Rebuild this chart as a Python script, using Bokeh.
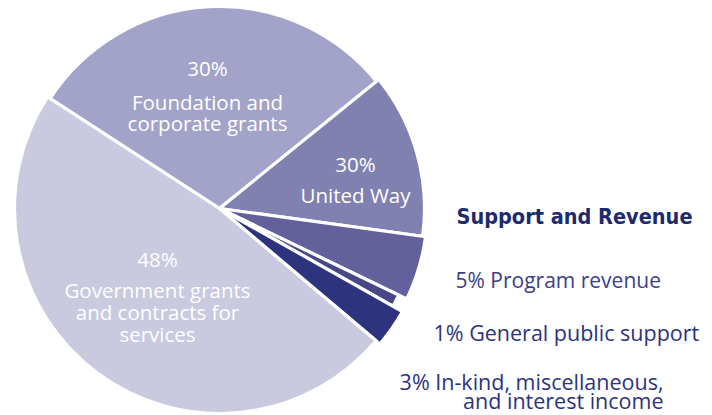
import math
from bokeh.plotting import figure
from bokeh.models import Range1d, ColumnDataSource
from bokeh.core.properties import value
from bokeh.embed import file_html
from bokeh.resources import INLINE

# ---- data ----
categories = ["Foundation and corporate grants", "United Way", "Program revenue",
              "General public support", "In-kind, miscellaneous, and interest income",
              "Government grants and contracts for services"]
shares = [30, 13, 5, 1, 3, 48]          # slice sizes (percent of circle)
pct_labels = ["30%", "30%", "5%", "1%", "3%", "48%"]   # printed labels
colors = ["#a3a3c9", "#8181b1", "#63609b", "#4a4789", "#2d347d", "#c9c9e0"]
radii = [202, 205, 208, 199, 210, 205]

W, H = 712, 415
p = figure(width=W, height=H, output_backend="svg", toolbar_location=None,
           x_range=Range1d(0, W), y_range=Range1d(0, H), min_border=0)
p.axis.visible = False
p.grid.visible = False
p.outline_line_color = None
p.background_fill_color = "white"

cx, cy = 219, 415 - 208
start_deg = 147.0
total = sum(shares)
starts, ends = [], []
a = start_deg
for s in shares:
    b = a - 360.0 * s / total
    starts.append(math.radians(b))
    ends.append(math.radians(a))
    a = b

src = ColumnDataSource(dict(x=[cx] * len(shares), y=[cy] * len(shares), r=radii,
                            s=starts, e=ends, c=colors, name=categories))
p.wedge(x="x", y="y", radius="r", start_angle="s", end_angle="e", fill_color="c",
        line_color="white", line_width=3.2, direction="anticlock", source=src)

font = value("Open Sans")

def txt(x, ys, lines, color, size="20.5px", align="center", fnt=font, style="normal"):
    p.text(x=[x] * len(lines), y=[415 - y for y in ys], text=lines, text_color=color,
           text_font=fnt, text_font_size=size, text_align=align,
           text_baseline="alphabetic", text_font_style=style)

white = "#ffffff"
# in-pie labels
txt(207, [67, 101, 122], [pct_labels[0], "Foundation and", "corporate grants"], white)
txt(355, [163, 194], [pct_labels[1], "United Way"], white)
txt(157, [258, 289, 311, 333], [pct_labels[5], "Government grants", "and contracts for", "services"], white)

navy = "#2b3380"
txt(692, [216], ["Support and Revenue"], "#1d2a6d", size="21.5px", align="right",
    fnt=value("DejaVu Sans Condensed, Roboto, sans-serif"), style="bold")
txt(455, [279], [pct_labels[2] + " Program revenue"], "#3c3f86", size="21px", align="left")
txt(433, [332], [pct_labels[3] + " General public support"], navy, size="21.5px", align="left")
txt(663, [381, 400], [pct_labels[4] + " In-kind, miscellaneous,", "and interest income"], navy,
    size="21.5px", align="right")

open("out.html", "w").write(file_html(p, INLINE))
